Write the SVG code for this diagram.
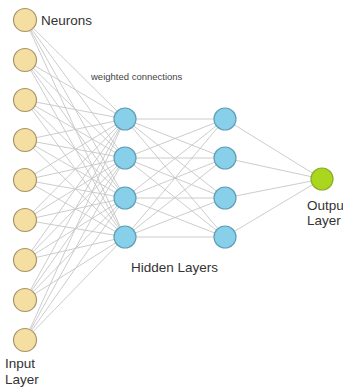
<svg xmlns="http://www.w3.org/2000/svg" width="343" height="389" viewBox="0 0 343 389">
  <style>
    .lbl { font-family: "Liberation Sans", Arial, sans-serif; fill: #333; }
    .big { font-size: 13.5px; }
    .small { font-size: 9.5px; fill: #444; }
    .in { fill: #f4dea2; stroke: #a8956a; stroke-width: 1.2; }
    .hid { fill: #88cfe9; stroke: #5f9fb6; stroke-width: 1.2; }
    .out { fill: #aad61e; stroke: #8bae2a; stroke-width: 1.2; }
    #connectors line { stroke: #c6c6c6; stroke-width: 0.9; }
  </style>

  <!-- weighted connections between layers -->
  <g id="connectors">
    <!-- input layer to first hidden layer -->
    <g id="in-h1">
      <line x1="25" y1="20" x2="125" y2="119"/><line x1="25" y1="20" x2="125" y2="158"/><line x1="25" y1="20" x2="125" y2="198"/><line x1="25" y1="20" x2="125" y2="237"/>
      <line x1="25" y1="60" x2="125" y2="119"/><line x1="25" y1="60" x2="125" y2="158"/><line x1="25" y1="60" x2="125" y2="198"/><line x1="25" y1="60" x2="125" y2="237"/>
      <line x1="25" y1="100" x2="125" y2="119"/><line x1="25" y1="100" x2="125" y2="158"/><line x1="25" y1="100" x2="125" y2="198"/><line x1="25" y1="100" x2="125" y2="237"/>
      <line x1="25" y1="140" x2="125" y2="119"/><line x1="25" y1="140" x2="125" y2="158"/><line x1="25" y1="140" x2="125" y2="198"/><line x1="25" y1="140" x2="125" y2="237"/>
      <line x1="25" y1="180" x2="125" y2="119"/><line x1="25" y1="180" x2="125" y2="158"/><line x1="25" y1="180" x2="125" y2="198"/><line x1="25" y1="180" x2="125" y2="237"/>
      <line x1="25" y1="220" x2="125" y2="119"/><line x1="25" y1="220" x2="125" y2="158"/><line x1="25" y1="220" x2="125" y2="198"/><line x1="25" y1="220" x2="125" y2="237"/>
      <line x1="25" y1="260" x2="125" y2="119"/><line x1="25" y1="260" x2="125" y2="158"/><line x1="25" y1="260" x2="125" y2="198"/><line x1="25" y1="260" x2="125" y2="237"/>
      <line x1="25" y1="300" x2="125" y2="119"/><line x1="25" y1="300" x2="125" y2="158"/><line x1="25" y1="300" x2="125" y2="198"/><line x1="25" y1="300" x2="125" y2="237"/>
      <line x1="25" y1="340" x2="125" y2="119"/><line x1="25" y1="340" x2="125" y2="158"/><line x1="25" y1="340" x2="125" y2="198"/><line x1="25" y1="340" x2="125" y2="237"/>
    </g>
    <!-- first hidden layer to second hidden layer -->
    <g id="h1-h2">
      <line x1="125" y1="119" x2="225" y2="119"/><line x1="125" y1="119" x2="225" y2="158"/><line x1="125" y1="119" x2="225" y2="198"/><line x1="125" y1="119" x2="225" y2="237"/>
      <line x1="125" y1="158" x2="225" y2="119"/><line x1="125" y1="158" x2="225" y2="158"/><line x1="125" y1="158" x2="225" y2="198"/><line x1="125" y1="158" x2="225" y2="237"/>
      <line x1="125" y1="198" x2="225" y2="119"/><line x1="125" y1="198" x2="225" y2="158"/><line x1="125" y1="198" x2="225" y2="198"/><line x1="125" y1="198" x2="225" y2="237"/>
      <line x1="125" y1="237" x2="225" y2="119"/><line x1="125" y1="237" x2="225" y2="158"/><line x1="125" y1="237" x2="225" y2="198"/><line x1="125" y1="237" x2="225" y2="237"/>
    </g>
    <!-- second hidden layer to output -->
    <g id="h2-out">
      <line x1="225" y1="119" x2="322" y2="179"/><line x1="225" y1="158" x2="322" y2="179"/><line x1="225" y1="198" x2="322" y2="179"/><line x1="225" y1="237" x2="322" y2="179"/>
    </g>
  </g>

  <!-- input layer -->
  <g id="input-1"><circle class="in" cx="25" cy="20" r="11.5"/></g>
  <g id="input-2"><circle class="in" cx="25" cy="60" r="11.5"/></g>
  <g id="input-3"><circle class="in" cx="25" cy="100" r="11.5"/></g>
  <g id="input-4"><circle class="in" cx="25" cy="140" r="11.5"/></g>
  <g id="input-5"><circle class="in" cx="25" cy="180" r="11.5"/></g>
  <g id="input-6"><circle class="in" cx="25" cy="220" r="11.5"/></g>
  <g id="input-7"><circle class="in" cx="25" cy="260" r="11.5"/></g>
  <g id="input-8"><circle class="in" cx="25" cy="300" r="11.5"/></g>
  <g id="input-9"><circle class="in" cx="25" cy="340" r="11.5"/></g>

  <!-- first hidden layer -->
  <g id="h1-1"><circle class="hid" cx="125" cy="119" r="11"/></g>
  <g id="h1-2"><circle class="hid" cx="125" cy="158" r="11"/></g>
  <g id="h1-3"><circle class="hid" cx="125" cy="198" r="11"/></g>
  <g id="h1-4"><circle class="hid" cx="125" cy="237" r="11"/></g>

  <!-- second hidden layer -->
  <g id="h2-1"><circle class="hid" cx="225" cy="119" r="11"/></g>
  <g id="h2-2"><circle class="hid" cx="225" cy="158" r="11"/></g>
  <g id="h2-3"><circle class="hid" cx="225" cy="198" r="11"/></g>
  <g id="h2-4"><circle class="hid" cx="225" cy="237" r="11"/></g>

  <!-- output neuron -->
  <g id="output"><circle class="out" cx="322" cy="179" r="11"/></g>

  <!-- labels -->
  <g id="labels">
    <text class="lbl big" x="41" y="25">Neurons</text>
    <text class="lbl small" x="91" y="80">weighted connections</text>
    <text class="lbl big" x="131" y="272">Hidden Layers</text>
    <text class="lbl big" x="5" y="368">Input</text>
    <text class="lbl big" x="5" y="384">Layer</text>
    <text class="lbl big" x="307" y="210">Output</text>
    <text class="lbl big" x="307" y="225">Layer</text>
  </g>
</svg>
